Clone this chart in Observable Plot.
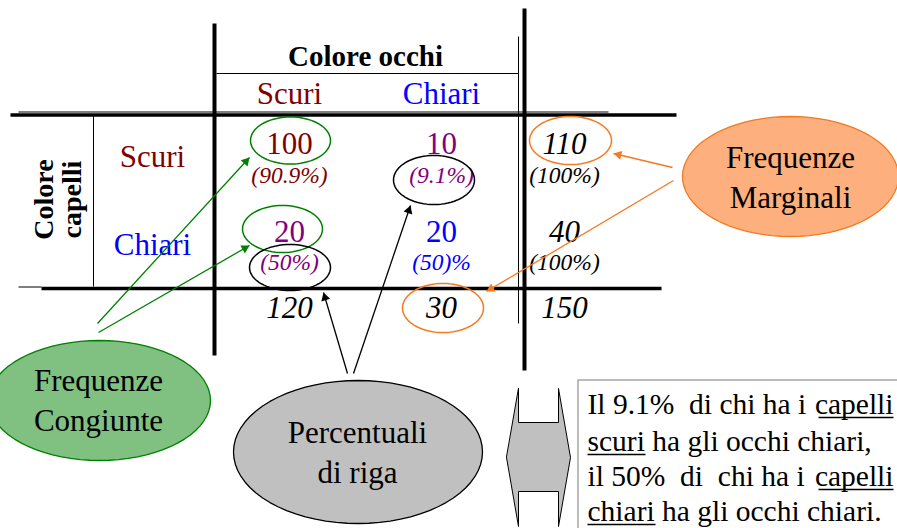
<!DOCTYPE html>
<html><head><meta charset="utf-8">
<script src="https://cdn.jsdelivr.net/npm/d3@7"></script>
<script src="https://cdn.jsdelivr.net/npm/@observablehq/plot@0.6"></script>
<style>html,body{margin:0;padding:0;background:#fff;} #chart{width:897px;height:528px;overflow:hidden}</style>
</head><body><div id="chart"></div>
<script>
// ---------- DATA ----------
const colHeader = "Colore occhi";
const rowHeaderLines = ["Colore", "capelli"];
const eyeCats = ["Scuri", "Chiari"];
const hairCats = ["Scuri", "Chiari"];
const jointFreq = [[100, 10], [20, 20]];
const rowPctLabels = [["(90.9%)", "(9.1%)"], ["(50%)", "(50)%"]];
const rowTotals = [110, 40];
const rowTotalPctLabels = ["(100%)", "(100%)"];
const colTotals = [120, 30];
const grandTotal = 150;
const calloutLabels = ["Frequenze\nCongiunte", "Percentuali\ndi riga", "Frequenze\nMarginali"];
const noteLeft = ["Il 9.1%\u00a0 di chi ha i", "scuri ha gli occhi chiari,", "il 50%\u00a0 di\u00a0 chi ha i", "chiari ha gli occhi chiari."];
const noteRight = ["capelli", "", "capelli", ""];

// ---------- LAYOUT / STYLE ----------
const W = 897, H = 528;
const FONT = "'Liberation Serif', 'Times New Roman', serif";
const C = {maroon: "#800000", purple: "#800080", blue: "#0000FF", green: "#008000",
  greenFill: "#80C080", orange: "#F47920", orangeFill: "#FDB07D", grayFill: "#C0C0C0"};
const cellColors = [[C.maroon, C.purple], [C.purple, C.blue]];
const catColors = [C.maroon, C.blue];
const L = {
  colX: [289, 441], totX: 564,
  rowY: [153, 241], pctY: [182, 269], totY: 317,
  rowLabelX: 152, rowLabelY: [166, 254], headerY: 103,
  titleX: 365, titleY: 65, side: {x: 80, y: 199},
  calloutText: [{x: 98, y: 430}, {x: 357, y: 482}, {x: 790, y: 207}],
  noteX: 587, noteRightX: 893, noteY: [413, 450, 485, 520]
};
const tableLines = [
  {x1: 214, y1: 23, x2: 214, y2: 355, w: 4},
  {x1: 524, y1: 8, x2: 524, y2: 370, w: 4},
  {x1: 10, y1: 114.5, x2: 676, y2: 114.5, w: 3.5},
  {x1: 18, y1: 111.5, x2: 608, y2: 111.5, w: 1},
  {x1: 41, y1: 288, x2: 661, y2: 288, w: 3.5},
  {x1: 18, y1: 286.5, x2: 41, y2: 286.5, w: 1},
  {x1: 216, y1: 73, x2: 518, y2: 73, w: 1},
  {x1: 518, y1: 36, x2: 518, y2: 323, w: 1},
  {x1: 93, y1: 114, x2: 93, y2: 286, w: 1}
];
const ringShapes = [
  {cx: 290, cy: 140, rx: 40, ry: 23.5, stroke: C.green},
  {cx: 282, cy: 228.5, rx: 40, ry: 23.5, stroke: C.green},
  {cx: 433.5, cy: 179.5, rx: 40.5, ry: 24.5, stroke: "#000"},
  {cx: 289.5, cy: 267, rx: 40.5, ry: 23, stroke: "#000"},
  {cx: 570, cy: 140, rx: 41, ry: 24, stroke: C.orange},
  {cx: 442.5, cy: 307.5, rx: 40.5, ry: 24.5, stroke: C.orange}
];
const calloutShapes = [
  {cx: 99, cy: 400, rx: 111, ry: 60, fill: C.greenFill, stroke: C.green},
  {cx: 357.5, cy: 451.5, rx: 124.5, ry: 71.5, fill: C.grayFill, stroke: "#000"},
  {cx: 790, cy: 176, rx: 108, ry: 60, fill: C.orangeFill, stroke: C.orange}
];
const arrows = [
  {x1: 97, y1: 323, x2: 249, y2: 157, c: C.green},
  {x1: 98, y1: 332, x2: 249, y2: 245, c: C.green},
  {x1: 347, y1: 373, x2: 323, y2: 292, c: "#000"},
  {x1: 353, y1: 373, x2: 410, y2: 205, c: "#000"},
  {x1: 672, y1: 167, x2: 613, y2: 153, c: C.orange},
  {x1: 673, y1: 180, x2: 486, y2: 291, c: C.orange}
];
const doubleArrow = [[518,388],[518,422],[558,422],[558,388],[570,457],[558,526],[558,491],[518,491],[518,526],[506,457]]
  .map(([x, y]) => ({x, y}));
const noteBox = {x1: 578, x2: 910, y1: 380, y2: 540};
const underlines = [
  {x1: 818, x2: 893, y: 417}, {x1: 587, x2: 645, y: 454},
  {x1: 818, x2: 893, y: 489}, {x1: 587, x2: 655, y: 524}
];

// ---------- DERIVED ----------
function ellipsePts(e, id) {
  return d3.range(0, 73).map(k => {
    const t = k / 72 * 2 * Math.PI;
    return {id, x: e.cx + e.rx * Math.cos(t), y: e.cy + e.ry * Math.sin(t), stroke: e.stroke, fill: e.fill};
  });
}
const ringPts = ringShapes.flatMap((e, i) => ellipsePts(e, i));
const calloutPts = calloutShapes.flatMap((e, i) => ellipsePts(e, i));
const HEAD_R = 3.4;
const headOff = 2 * Math.sqrt((Math.PI * HEAD_R * HEAD_R) / (Math.sqrt(3) * 3));
const heads = arrows.map(a => {
  const dx = a.x2 - a.x1, dy = a.y2 - a.y1, len = Math.hypot(dx, dy);
  return {x: a.x2 - dx / len * headOff, y: a.y2 - dy / len * headOff,
    rot: Math.atan2(dx, -dy) * 180 / Math.PI, c: a.c};
});
const cells = [];
hairCats.forEach((h, i) => eyeCats.forEach((e, j) =>
  cells.push({value: String(jointFreq[i][j]), pct: rowPctLabels[i][j], x: L.colX[j], y: L.rowY[i], py: L.pctY[i], c: cellColors[i][j]})));
const rowTot = rowTotals.map((v, i) => ({value: String(v), pct: rowTotalPctLabels[i], x: L.totX, y: L.rowY[i], py: L.pctY[i]}));
const colTot = colTotals.map((v, j) => ({value: String(v), x: L.colX[j], y: L.totY}))
  .concat([{value: String(grandTotal), x: L.totX, y: L.totY}]);
const colHead = eyeCats.map((t, j) => ({t, x: L.colX[j], y: L.headerY, c: catColors[j]}));
const rowHead = hairCats.map((t, i) => ({t, x: L.rowLabelX, y: L.rowLabelY[i], c: catColors[i]}));
const callTexts = calloutLabels.map((t, i) => ({t, ...L.calloutText[i]}));
const notes = noteLeft.map((t, i) => ({t, r: noteRight[i], y: L.noteY[i]}));

const txt = (data, o) => Plot.text(data, {textAnchor: "middle", lineAnchor: "bottom", fontFamily: FONT, ...o});

const chart = Plot.plot({
  width: W, height: H, margin: 0,
  x: {type: "linear", domain: [0, W], range: [0, W], axis: null},
  y: {type: "linear", domain: [0, H], range: [0, H], axis: null},
  color: {type: "identity"},
  style: {fontFamily: FONT, background: "white", overflow: "hidden"},
  marks: [
    Plot.rect([noteBox], {x1: "x1", x2: "x2", y1: "y1", y2: "y2", fill: "white", stroke: "#A6A6A6", strokeWidth: 1.5}),
    Plot.line(doubleArrow, {x: "x", y: "y", curve: "linear-closed", fill: C.grayFill, stroke: "#000", strokeWidth: 1}),
    Plot.line(calloutPts, {x: "x", y: "y", z: "id", fill: "fill", stroke: "stroke", strokeWidth: 1.3, curve: "linear-closed"}),
    Plot.link(tableLines, {x1: "x1", y1: "y1", x2: "x2", y2: "y2", stroke: "#000", strokeWidth: "w"}),
    txt([colHeader], {x: L.titleX, y: L.titleY, text: d => d, fontSize: 29, fontWeight: "bold", fill: "#000"}),
    txt([rowHeaderLines.join("\n")], {x: L.side.x, y: L.side.y, text: d => d, rotate: -90, fontSize: 28, fontWeight: "bold", lineHeight: 1.0, fill: "#000"}),
    txt(colHead, {x: "x", y: "y", text: "t", fill: "c", fontSize: 31}),
    txt(rowHead, {x: "x", y: "y", text: "t", fill: "c", fontSize: 31}),
    txt(cells, {x: "x", y: "y", text: "value", fill: "c", fontSize: 31}),
    txt(cells, {x: "x", y: "py", text: "pct", fill: "c", fontSize: 23.5, fontStyle: "italic"}),
    txt(rowTot, {x: "x", y: "y", text: "value", fill: "#000", fontSize: 31, fontStyle: "italic"}),
    txt(rowTot, {x: "x", y: "py", text: "pct", fill: "#000", fontSize: 23.5, fontStyle: "italic"}),
    txt(colTot, {x: "x", y: "y", text: "value", fill: "#000", fontSize: 31, fontStyle: "italic"}),
    txt(callTexts, {x: "x", y: "y", text: "t", fill: "#000", fontSize: 31, lineHeight: 1.26}),
    txt(notes, {x: L.noteX, y: "y", text: "t", fill: "#000", fontSize: 29.5, textAnchor: "start"}),
    txt(notes, {x: L.noteRightX, y: "y", text: "r", fill: "#000", fontSize: 29.5, textAnchor: "end"}),
    Plot.link(underlines, {x1: "x1", x2: "x2", y1: "y", y2: "y", stroke: "#000", strokeWidth: 1.5}),
    Plot.line(ringPts, {x: "x", y: "y", z: "id", stroke: "stroke", fill: "none", strokeWidth: 1.5, curve: "linear-closed"}),
    Plot.link(arrows, {x1: "x1", y1: "y1", x2: "x2", y2: "y2", stroke: "c", strokeWidth: 1.3}),
    Plot.dot(heads, {x: "x", y: "y", symbol: "triangle", r: HEAD_R, rotate: "rot", fill: "c", stroke: null})
  ]
});
document.getElementById("chart").append(chart);
</script></body></html>
